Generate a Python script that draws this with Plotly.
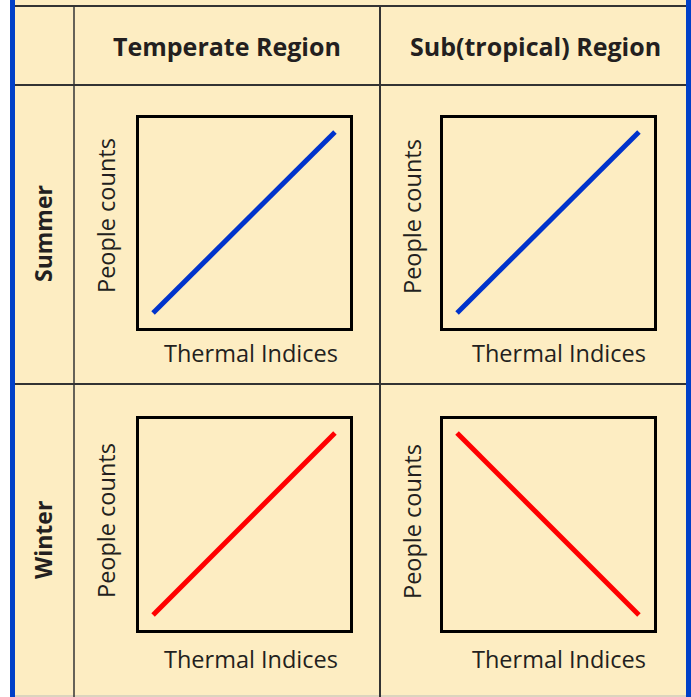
"""
Thermal indices vs people counts — season/region schematic grid
"""
import plotly.graph_objects as go

W, H = 691, 697

# data
thermal = [0, 1]
summer_temperate = [0, 1]
summer_subtropical = [0, 1]
winter_temperate = [0, 1]
winter_subtropical = [1, 0]

regions = ['Temperate Region', 'Sub(tropical) Region']
seasons = ['Summer', 'Winter']
x_label = 'Thermal Indices'
y_label = 'People counts'

BG = '#FDEDC2'
FRAME_BLUE = '#0040C8'
GRID = '#333333'
TEXT = '#231F20'
FONT = 'Open Sans'


def px(x):
    return x / W


def py(y):
    return 1 - y / H


fig = go.Figure()

panels = [
    (summer_temperate, '#0033CC', (137, 351), (116, 329)),
    (summer_subtropical, '#0033CC', (441, 655), (116, 329)),
    (winter_temperate, '#FF0000', (137, 351), (417, 631)),
    (winter_subtropical, '#FF0000', (441, 655), (417, 631)),
]

for i, (vals, color, (x0, x1), (y0, y1)) in enumerate(panels, start=1):
    sfx = '' if i == 1 else str(i)
    fig.add_trace(go.Scatter(
        x=thermal, y=vals, mode='lines',
        line=dict(color=color, width=5),
        xaxis='x' + sfx, yaxis='y' + sfx,
        showlegend=False, hoverinfo='skip'
    ))
    ax = dict(range=[-0.08, 1.08], showgrid=False, zeroline=False,
              showticklabels=False, ticks='', showline=True, mirror=True,
              linecolor='black', linewidth=3, fixedrange=True)
    fig.update_layout(**{
        'xaxis' + sfx: dict(ax, domain=[px(x0 + 1.5), px(x1 - 1.5)], anchor='y' + sfx),
        'yaxis' + sfx: dict(ax, domain=[py(y1 - 1.5), py(y0 + 1.5)], anchor='x' + sfx),
    })

shapes = [
    # yellow panel
    dict(type='rect', x0=px(15), x1=px(686), y0=py(697), y1=py(0),
         fillcolor=BG, line_width=0, layer='below'),
    # blue side bars
    dict(type='rect', x0=px(10), x1=px(15), y0=0, y1=1,
         fillcolor=FRAME_BLUE, line_width=0),
    dict(type='rect', x0=px(686), x1=px(691), y0=0, y1=1,
         fillcolor=FRAME_BLUE, line_width=0),
]
# table rules
for y, w in [(6, 2), (85, 2), (384, 2)]:
    shapes.append(dict(type='line', x0=px(15), x1=px(686), y0=py(y), y1=py(y),
                       line=dict(color=GRID, width=w)))
shapes.append(dict(type='line', x0=px(15), x1=px(686), y0=py(696), y1=py(696),
                   line=dict(color='#BBBBBB', width=1)))
for x, w in [(74, 1.5), (380, 2)]:
    shapes.append(dict(type='line', x0=px(x), x1=px(x), y0=py(6), y1=py(697),
                       line=dict(color=GRID, width=w)))
for s in shapes:
    s.update(xref='paper', yref='paper')
shapes[0]['layer'] = 'below'

annotations = []
for name, cx in zip(regions, [227, 535]):
    annotations.append(dict(text=f'<b>{name}</b>', x=px(cx), y=py(46),
                            font=dict(size=25, color=TEXT)))
for name, cy in zip(seasons, [234, 540]):
    annotations.append(dict(text=f'<b>{name}</b>', x=px(43), y=py(cy),
                            textangle=-90, font=dict(size=23, color=TEXT)))
for cx in [251, 559]:
    for cy in [353, 659]:
        annotations.append(dict(text=x_label, x=px(cx), y=py(cy),
                                font=dict(size=23.5, color=TEXT)))
for cx in [106, 412]:
    for cy in [216, 521]:
        annotations.append(dict(text=y_label, x=px(cx), y=py(cy), textangle=-90,
                                font=dict(size=23.5, color=TEXT)))
for a in annotations:
    a.update(xref='paper', yref='paper', showarrow=False,
             xanchor='center', yanchor='middle')

fig.update_layout(
    width=W, height=H,
    margin=dict(l=0, r=0, t=0, b=0),
    paper_bgcolor='white', plot_bgcolor='rgba(0,0,0,0)',
    font=dict(family=FONT),
    shapes=shapes, annotations=annotations,
    showlegend=False
)

fig.write_html("out.html", config={'displayModeBar': False},
               post_script="document.body.style.margin='0';")
